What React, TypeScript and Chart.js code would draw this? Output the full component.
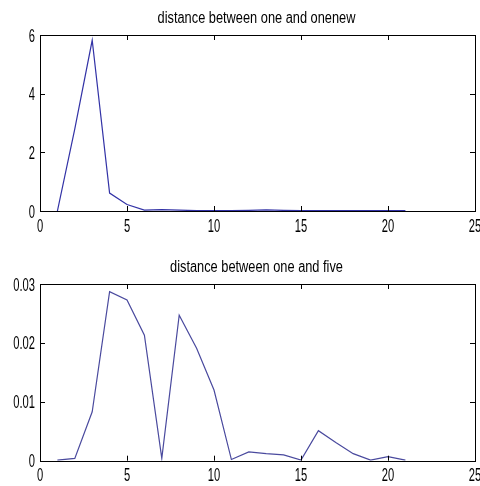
import React, { useEffect, useRef } from "react";
import { Chart, registerables } from "chart.js";

Chart.register(...registerables);

const xValues = [1, 2, 3, 4, 5, 6, 7, 8, 9, 10, 11, 12, 13, 14, 15, 16, 17, 18, 19, 20, 21];
const oneNewValues = [0, 2.8, 5.82, 0.61, 0.22, 0.03, 0.05, 0.03, 0.01, 0.01, 0.01, 0.02, 0.04, 0.02, 0.01, 0.01, 0.01, 0.01, 0.01, 0.01, 0.01];
const fiveValues = [0.0001, 0.0004, 0.0083, 0.0287, 0.0273, 0.0213, 0.0004, 0.0247, 0.0191, 0.012, 0.0002, 0.0015, 0.0012, 0.001, 0.0001, 0.0051, 0.0031, 0.0012, 0.0001, 0.0007, 0.0001];

const topTitle = "distance between one and onenew";
const bottomTitle = "distance between one and five";
const topYTicks = [0, 2, 4, 6];
const topYLabels = ["0", "2", "4", "6"];
const bottomYTicks = [0, 0.01, 0.02, 0.03];
const bottomYLabels = ["0", "0.01", "0.02", "0.03"];
const xTicks = [0, 5, 10, 15, 20, 25];
const xLabels = ["0", "5", "10", "15", "20", "25"];

const FONT = '"Liberation Sans", Arial, Helvetica, sans-serif';

function makeMatlabPlugin(title: string, yTicks: number[], yLabels: string[]) {
  return {
    id: "matlabAxes",
    afterDraw(chart: any) {
      const ctx = chart.ctx as CanvasRenderingContext2D;
      const { left, right, top, bottom } = chart.chartArea;
      const xs = chart.scales.x;
      const ys = chart.scales.y;
      ctx.save();
      ctx.strokeStyle = "#000";
      ctx.lineWidth = 1;
      ctx.strokeRect(Math.round(left) + 0.5, Math.round(top) + 0.5, Math.round(right - left), Math.round(bottom - top));
      const tl = 5;
      ctx.beginPath();
      xTicks.forEach((v) => {
        const px = Math.round(xs.getPixelForValue(v)) + 0.5;
        ctx.moveTo(px, bottom);
        ctx.lineTo(px, bottom - tl);
        ctx.moveTo(px, top);
        ctx.lineTo(px, top + tl);
      });
      yTicks.forEach((v) => {
        const py = Math.round(ys.getPixelForValue(v)) + 0.5;
        ctx.moveTo(left, py);
        ctx.lineTo(left + tl, py);
        ctx.moveTo(right, py);
        ctx.lineTo(right - tl, py);
      });
      ctx.stroke();

      ctx.fillStyle = "#000";
      ctx.font = `18px ${FONT}`;
      ctx.textBaseline = "alphabetic";
      const sx = 0.62;
      // x labels
      xTicks.forEach((v, i) => {
        const px = xs.getPixelForValue(v);
        ctx.save();
        ctx.translate(px, bottom + 20.5);
        ctx.scale(sx, 1);
        ctx.textAlign = "center";
        ctx.fillText(xLabels[i], 0, 0);
        ctx.restore();
      });
      // y labels
      yTicks.forEach((v, i) => {
        const py = ys.getPixelForValue(v);
        ctx.save();
        ctx.translate(left - 5, py + 6.5);
        ctx.scale(sx, 1);
        ctx.textAlign = "right";
        ctx.fillText(yLabels[i], 0, 0);
        ctx.restore();
      });
      // title
      ctx.save();
      ctx.font = `16px ${FONT}`;
      ctx.translate((left + right) / 2 - 1, top - 12);
      ctx.scale(0.8, 1);
      ctx.textAlign = "center";
      ctx.fillText(title, 0, 0);
      ctx.restore();
      ctx.restore();
    },
  };
}

function makeConfig(values: number[], title: string, yTicks: number[], yLabels: string[], yMax: number, padTop: number, xHeight: number, color: string): any {
  return {
    type: "line",
    data: {
      datasets: [
        {
          data: xValues.map((x, i) => ({ x, y: values[i] })),
          borderColor: color,
          borderWidth: 1.2,
          pointRadius: 0,
          tension: 0,
          fill: false,
        },
      ],
    },
    options: {
      animation: false,
      responsive: false,
      maintainAspectRatio: false,
      layout: { padding: { top: padTop, right: 5, left: 0, bottom: 0 } },
      plugins: { legend: { display: false }, title: { display: false }, tooltip: { enabled: false } },
      scales: {
        x: {
          type: "linear",
          min: 0,
          max: 25,
          grid: { display: false },
          border: { display: false },
          ticks: { display: false, stepSize: 5 },
          afterFit: (s: any) => {
            s.height = xHeight;
          },
        },
        y: {
          type: "linear",
          min: 0,
          max: yMax,
          grid: { display: false },
          border: { display: false },
          ticks: { display: false },
          afterFit: (s: any) => {
            s.width = 40;
          },
        },
      },
    },
    plugins: [makeMatlabPlugin(title, yTicks, yLabels)],
  };
}

export default function App() {
  const topRef = useRef<HTMLCanvasElement | null>(null);
  const botRef = useRef<HTMLCanvasElement | null>(null);

  useEffect(() => {
    const c1 = new Chart(topRef.current as HTMLCanvasElement, makeConfig(oneNewValues, topTitle, topYTicks, topYLabels, 6, 35, 32, "#3232a6"));
    const c2 = new Chart(botRef.current as HTMLCanvasElement, makeConfig(fiveValues, bottomTitle, bottomYTicks, bottomYLabels, 0.03, 41, 25.3, "#4a4a9e"));
    return () => {
      c1.destroy();
      c2.destroy();
    };
  }, []);

  return (
    <div style={{ position: "absolute", left: 0, top: 0, width: 480, height: 486, background: "#fff", overflow: "hidden" }}>
      <canvas ref={topRef} width={480} height={243} style={{ position: "absolute", left: 0, top: 0, width: 480, height: 243 }} />
      <canvas ref={botRef} width={480} height={243} style={{ position: "absolute", left: 0, top: 243, width: 480, height: 243 }} />
    </div>
  );
}
